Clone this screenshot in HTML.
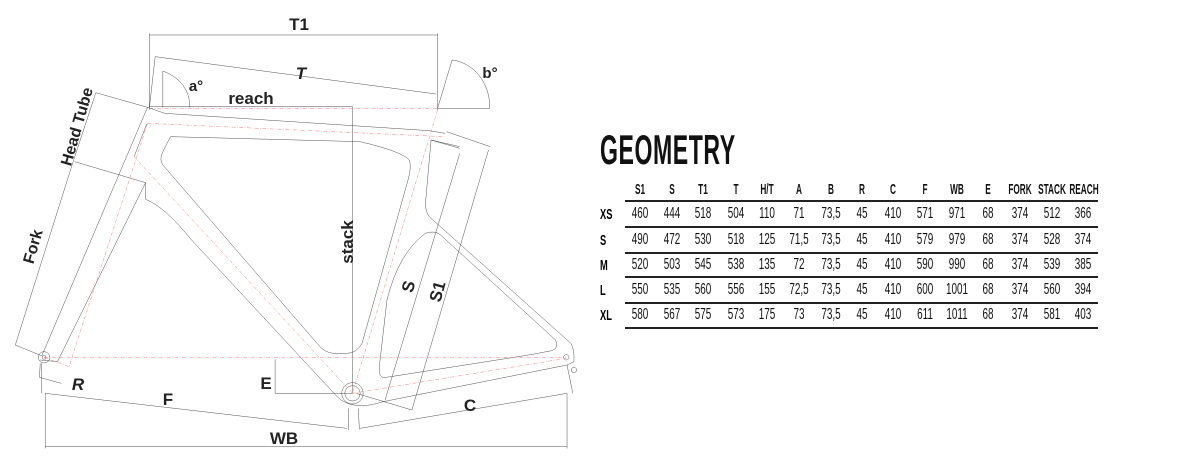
<!DOCTYPE html>
<html><head><meta charset="utf-8"><style>
html,body{margin:0;padding:0;background:#fff;}
body{width:1200px;height:470px;position:relative;overflow:hidden;font-family:"Liberation Sans",sans-serif;}
svg{position:absolute;left:0;top:0;}
.t{position:absolute;transform:translateX(-50%) scaleX(0.62);white-space:nowrap;color:#111;}
.h{font-weight:bold;font-size:15px;top:181px;transform:translateX(-50%) scaleX(0.55);}
.d{font-size:16px;}
.rl{position:absolute;left:600px;font-weight:bold;font-size:15px;transform:scaleX(0.62);transform-origin:left;}
.ln{position:absolute;left:625px;width:473px;height:2px;background:#222;}
</style></head><body>
<svg width="600" height="470" viewBox="0 0 1566 1410" preserveAspectRatio="none">
<g fill="none" stroke="#222" stroke-width="1.1" vector-effect="non-scaling-stroke">
<line x1="390" y1="105" x2="1142" y2="105"/>
<line x1="390" y1="100" x2="390" y2="330"/>
<line x1="1142" y1="100" x2="1142" y2="330"/>
<line x1="405" y1="170" x2="1138" y2="282"/>
<line x1="405" y1="170" x2="390" y2="322"/>
<line x1="425" y1="213" x2="425" y2="322"/>
<path d="M425,213 A110,110 0 0 1 495,322"/>
<line x1="390" y1="320" x2="920" y2="320"/>
<line x1="920" y1="320" x2="920" y2="1180"/>
<line x1="1142" y1="325" x2="1180" y2="180"/>
<path d="M1180,180 A110,140 0 0 1 1278,325"/>
<line x1="1142" y1="325" x2="1278" y2="325"/>
<line x1="250" y1="278" x2="385" y2="322"/>
<line x1="250" y1="278" x2="190" y2="488"/>
<line x1="195" y1="485" x2="380" y2="548"/>
<line x1="190" y1="488" x2="40" y2="1035"/>
<line x1="40" y1="1035" x2="110" y2="1068"/>
<line x1="105" y1="1090" x2="103" y2="1132"/>
<line x1="103" y1="1132" x2="160" y2="1150"/>
<line x1="718" y1="1078" x2="718" y2="1180"/>
<line x1="718" y1="1180" x2="920" y2="1180"/>
<line x1="118" y1="1180" x2="905" y2="1285"/>
<line x1="108" y1="1090" x2="108" y2="1180"/>
<line x1="910" y1="1225" x2="910" y2="1290"/>
<line x1="935" y1="1225" x2="938" y2="1288"/>
<line x1="940" y1="1285" x2="1480" y2="1180"/>
<line x1="1480" y1="1095" x2="1495" y2="1180"/>
<line x1="118" y1="1340" x2="1480" y2="1340"/>
<line x1="118" y1="1180" x2="118" y2="1345"/>
<line x1="1480" y1="1180" x2="1480" y2="1345"/>
<line x1="1200" y1="460" x2="1005" y2="1200"/>
<line x1="1275" y1="450" x2="1075" y2="1230"/>
<line x1="1125" y1="420" x2="1200" y2="440"/>
<line x1="1165" y1="395" x2="1280" y2="440"/>
<line x1="930" y1="1180" x2="1075" y2="1230"/>
<path d="M385,322 L430,340 L1120,392 L1162,400"/>
<path d="M385,322 L110,1065"/>
<path d="M383,372 L350,470"/>
<path d="M380,548 L150,1085 L105,1080"/>
<path d="M380,548 L380,598 Q430,620 500,720 L880,1190 Q920,1235 1000,1205 L1480,1095 L1498,1085 Q1500,1050 1490,1030 L1130,660 Q1105,640 1112,590 L1125,420 L1200,445"/>
<path d="M445,410 L940,425 Q1050,455 1068,480 Q1075,500 1065,540 L945,1030 Q930,1060 905,1060 L870,1060 Q850,1058 835,1040 L425,495 Q415,480 425,455 Z"/>
<path d="M1000,1133 Q988,1128 990,1100 L1010,900 Q1040,760 1110,700 Q1135,690 1150,705 L1450,1020 Q1460,1045 1440,1052 L1380,1065 L1020,1130 Z"/>
<ellipse cx="920" cy="1180" rx="28" ry="32"/>
<ellipse cx="920" cy="1180" rx="20" ry="23"/>
<ellipse cx="115" cy="1072" rx="15" ry="17"/>
<ellipse cx="115" cy="1072" rx="5" ry="6"/>
<ellipse cx="1478" cy="1072" rx="7" ry="8"/>
<ellipse cx="1498" cy="1110" rx="7" ry="8"/>
</g>
<g fill="none" stroke="#e86a6a" stroke-width="1.2" stroke-dasharray="10,4,2,4" vector-effect="non-scaling-stroke">
<line x1="390" y1="325" x2="1142" y2="325"/>
<line x1="385" y1="370" x2="1160" y2="410"/>
<line x1="385" y1="370" x2="180" y2="1100"/>
<line x1="350" y1="470" x2="920" y2="1180"/>
<line x1="1142" y1="330" x2="920" y2="1180"/>
<line x1="920" y1="1180" x2="1478" y2="1075"/>
<line x1="115" y1="1072" x2="1478" y2="1072"/>
<line x1="115" y1="1072" x2="180" y2="1100"/>
</g>
</svg>
<svg width="600" height="470" viewBox="0 0 600 470">
<g font-family="Liberation Sans" font-weight="bold" font-size="17" fill="#222" text-anchor="middle">
<text x="299" y="30">T1</text>
<text x="301" y="79" font-style="italic">T</text>
<text x="196" y="91" font-size="15">a°</text>
<text x="490" y="78" font-size="15">b°</text>
<text x="251" y="104">reach</text>
<text transform="translate(353,242) rotate(-90)">stack</text>
<text transform="translate(82,128) rotate(-74)" font-size="16">Head Tube</text>
<text transform="translate(38,248) rotate(-74)" font-size="16">Fork</text>
<text transform="translate(414,288) rotate(-75)">S</text>
<text transform="translate(443,293) rotate(-75)">S1</text>
<text x="78" y="390" font-style="italic">R</text>
<text x="266" y="389">E</text>
<text x="168" y="405">F</text>
<text x="470" y="411">C</text>
<text x="284" y="444">WB</text>
</g>
</svg>
<div style="position:absolute;left:600px;top:126px;font-weight:bold;font-size:42px;transform:scaleX(0.55);transform-origin:left;letter-spacing:1px;color:#111;">GEOMETRY</div>
<div class="t h" style="left:640px">S1</div><div class="t h" style="left:672px">S</div><div class="t h" style="left:703px">T1</div><div class="t h" style="left:736px">T</div><div class="t h" style="left:767px">H/T</div><div class="t h" style="left:799px">A</div><div class="t h" style="left:831px">B</div><div class="t h" style="left:862px">R</div><div class="t h" style="left:893px">C</div><div class="t h" style="left:925px">F</div><div class="t h" style="left:957px">WB</div><div class="t h" style="left:988px">E</div><div class="t h" style="left:1020px">FORK</div><div class="t h" style="left:1052px">STACK</div><div class="t h" style="left:1084px">REACH</div>
<div class="ln" style="top:200px"></div><div class="ln" style="top:226px"></div><div class="ln" style="top:252px"></div><div class="ln" style="top:276px"></div><div class="ln" style="top:302px"></div><div class="ln" style="top:327px"></div>
<div class="rl" style="top:206px">XS</div><div class="rl" style="top:232px">S</div><div class="rl" style="top:257px">M</div><div class="rl" style="top:282px">L</div><div class="rl" style="top:307px">XL</div>
<div style="position:absolute;top:205px;left:0"><div class="t d" style="left:640px">460</div><div class="t d" style="left:672px">444</div><div class="t d" style="left:703px">518</div><div class="t d" style="left:736px">504</div><div class="t d" style="left:767px">110</div><div class="t d" style="left:799px">71</div><div class="t d" style="left:831px">73,5</div><div class="t d" style="left:862px">45</div><div class="t d" style="left:893px">410</div><div class="t d" style="left:925px">571</div><div class="t d" style="left:957px">971</div><div class="t d" style="left:988px">68</div><div class="t d" style="left:1020px">374</div><div class="t d" style="left:1052px">512</div><div class="t d" style="left:1083px">366</div></div>
<div style="position:absolute;top:231px;left:0"><div class="t d" style="left:640px">490</div><div class="t d" style="left:672px">472</div><div class="t d" style="left:703px">530</div><div class="t d" style="left:736px">518</div><div class="t d" style="left:767px">125</div><div class="t d" style="left:799px">71,5</div><div class="t d" style="left:831px">73,5</div><div class="t d" style="left:862px">45</div><div class="t d" style="left:893px">410</div><div class="t d" style="left:925px">579</div><div class="t d" style="left:957px">979</div><div class="t d" style="left:988px">68</div><div class="t d" style="left:1020px">374</div><div class="t d" style="left:1052px">528</div><div class="t d" style="left:1083px">374</div></div>
<div style="position:absolute;top:256px;left:0"><div class="t d" style="left:640px">520</div><div class="t d" style="left:672px">503</div><div class="t d" style="left:703px">545</div><div class="t d" style="left:736px">538</div><div class="t d" style="left:767px">135</div><div class="t d" style="left:799px">72</div><div class="t d" style="left:831px">73,5</div><div class="t d" style="left:862px">45</div><div class="t d" style="left:893px">410</div><div class="t d" style="left:925px">590</div><div class="t d" style="left:957px">990</div><div class="t d" style="left:988px">68</div><div class="t d" style="left:1020px">374</div><div class="t d" style="left:1052px">539</div><div class="t d" style="left:1083px">385</div></div>
<div style="position:absolute;top:281px;left:0"><div class="t d" style="left:640px">550</div><div class="t d" style="left:672px">535</div><div class="t d" style="left:703px">560</div><div class="t d" style="left:736px">556</div><div class="t d" style="left:767px">155</div><div class="t d" style="left:799px">72,5</div><div class="t d" style="left:831px">73,5</div><div class="t d" style="left:862px">45</div><div class="t d" style="left:893px">410</div><div class="t d" style="left:925px">600</div><div class="t d" style="left:957px">1001</div><div class="t d" style="left:988px">68</div><div class="t d" style="left:1020px">374</div><div class="t d" style="left:1052px">560</div><div class="t d" style="left:1083px">394</div></div>
<div style="position:absolute;top:306px;left:0"><div class="t d" style="left:640px">580</div><div class="t d" style="left:672px">567</div><div class="t d" style="left:703px">575</div><div class="t d" style="left:736px">573</div><div class="t d" style="left:767px">175</div><div class="t d" style="left:799px">73</div><div class="t d" style="left:831px">73,5</div><div class="t d" style="left:862px">45</div><div class="t d" style="left:893px">410</div><div class="t d" style="left:925px">611</div><div class="t d" style="left:957px">1011</div><div class="t d" style="left:988px">68</div><div class="t d" style="left:1020px">374</div><div class="t d" style="left:1052px">581</div><div class="t d" style="left:1083px">403</div></div>
</body></html>
